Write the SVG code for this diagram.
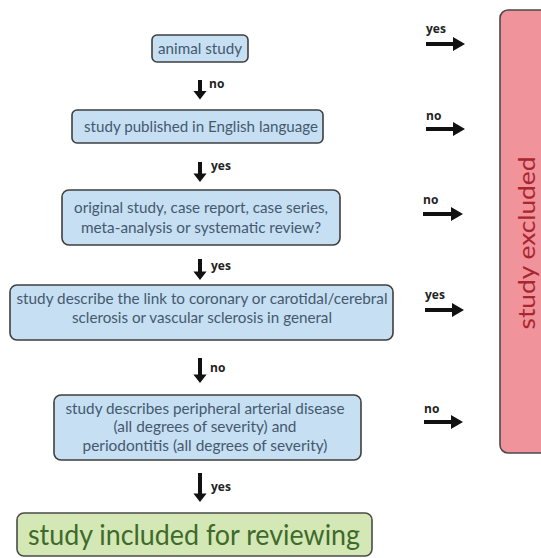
<svg xmlns="http://www.w3.org/2000/svg" width="541" height="558" viewBox="0 0 541 558">
<style>
.box{fill:#c6dff3;stroke:#3f3f3f;stroke-width:1.6}
.t{font-family:Lato,"Open Sans","Liberation Sans",sans-serif;font-size:15px;fill:#45596d;text-anchor:middle}
.lbl{font-family:"Open Sans","Liberation Sans",sans-serif;font-size:12px;font-weight:bold;fill:#222}
.arr{fill:#111}
</style>
<rect width="541" height="558" fill="#ffffff"/>
<g id="excluded">
<rect x="500" y="10" width="60" height="443" rx="8" fill="#f0939b" stroke="#4a4a4a" stroke-width="1.6"/>
<text x="535" y="243" transform="rotate(-90 535 243)" font-family="Lato,'Open Sans','Liberation Sans',sans-serif" font-size="24" fill="#a8262f" text-anchor="middle" textLength="173" lengthAdjust="spacingAndGlyphs">study excluded</text>
</g>
<g id="n1">
<rect class="box" x="152" y="35" width="96" height="27" rx="5"/>
<text class="t" x="200" y="54" textLength="84" lengthAdjust="spacingAndGlyphs">animal study</text>
</g>
<g id="n2">
<rect class="box" x="72" y="110" width="251" height="33" rx="5"/>
<text class="t" x="201" y="132" textLength="234" lengthAdjust="spacingAndGlyphs">study published in English language</text>
</g>
<g id="n3">
<rect class="box" x="62" y="190" width="278" height="55" rx="7"/>
<text class="t" x="201" y="213" textLength="254" lengthAdjust="spacingAndGlyphs">original study, case report, case series,</text>
<text class="t" x="201" y="233" textLength="240" lengthAdjust="spacingAndGlyphs">meta-analysis or systematic review?</text>
</g>
<g id="n4">
<rect class="box" x="10" y="285" width="383" height="55" rx="7"/>
<text class="t" x="202" y="304" textLength="371" lengthAdjust="spacingAndGlyphs">study describe the link to coronary or carotidal/cerebral</text>
<text class="t" x="202" y="323" textLength="260" lengthAdjust="spacingAndGlyphs">sclerosis or vascular sclerosis in general</text>
</g>
<g id="n5">
<rect class="box" x="54" y="395" width="307" height="65" rx="7"/>
<text class="t" x="205" y="414" textLength="279" lengthAdjust="spacingAndGlyphs">study describes peripheral arterial disease</text>
<text class="t" x="205" y="432" textLength="183" lengthAdjust="spacingAndGlyphs">(all degrees of severity) and</text>
<text class="t" x="205" y="451" textLength="245" lengthAdjust="spacingAndGlyphs">periodontitis (all degrees of severity)</text>
</g>
<g id="included">
<rect x="17" y="513" width="355" height="43" rx="7" fill="#d4e8b6" stroke="#4a4a4a" stroke-width="1.6"/>
<text x="194" y="545" font-family="Lato,'Open Sans','Liberation Sans',sans-serif" font-size="28" fill="#3f6a2c" text-anchor="middle" textLength="332" lengthAdjust="spacingAndGlyphs">study included for reviewing</text>
</g>
<g id="connectors">
<path class="arr" d="M198 80 h4 v11 h4.6 l-6.6 8.5 l-6.6 -8.5 h4.6 z"/>
<text class="lbl" x="209" y="88">no</text>
<path class="arr" d="M198 162 h4 v11.5 h4.6 l-6.6 8.5 l-6.6 -8.5 h4.6 z"/>
<text class="lbl" x="211" y="170">yes</text>
<path class="arr" d="M198 259 h4 v12.5 h4.6 l-6.6 8.5 l-6.6 -8.5 h4.6 z"/>
<text class="lbl" x="211" y="270">yes</text>
<path class="arr" d="M198 358 h4 v16.5 h4.6 l-6.6 8.5 l-6.6 -8.5 h4.6 z"/>
<text class="lbl" x="210" y="372">no</text>
<path class="arr" d="M198 473 h4 v20.5 h4.6 l-6.6 8.5 l-6.6 -8.5 h4.6 z"/>
<text class="lbl" x="211" y="491">yes</text>

<path class="arr" d="M426 42 h27 v-5 l12 7 l-12 7 v-5 h-27 z"/>
<text class="lbl" x="426" y="33">yes</text>
<path class="arr" d="M426 127 h27 v-5 l12 7 l-12 7 v-5 h-27 z"/>
<text class="lbl" x="426" y="120">no</text>
<path class="arr" d="M423 212 h28 v-5 l12 7 l-12 7 v-5 h-28 z"/>
<text class="lbl" x="423" y="204">no</text>
<path class="arr" d="M425 308 h27 v-5 l12 7 l-12 7 v-5 h-27 z"/>
<text class="lbl" x="425" y="299">yes</text>
<path class="arr" d="M424 420 h27 v-5 l12 7 l-12 7 v-5 h-27 z"/>
<text class="lbl" x="424" y="413">no</text>
</g>
</svg>
